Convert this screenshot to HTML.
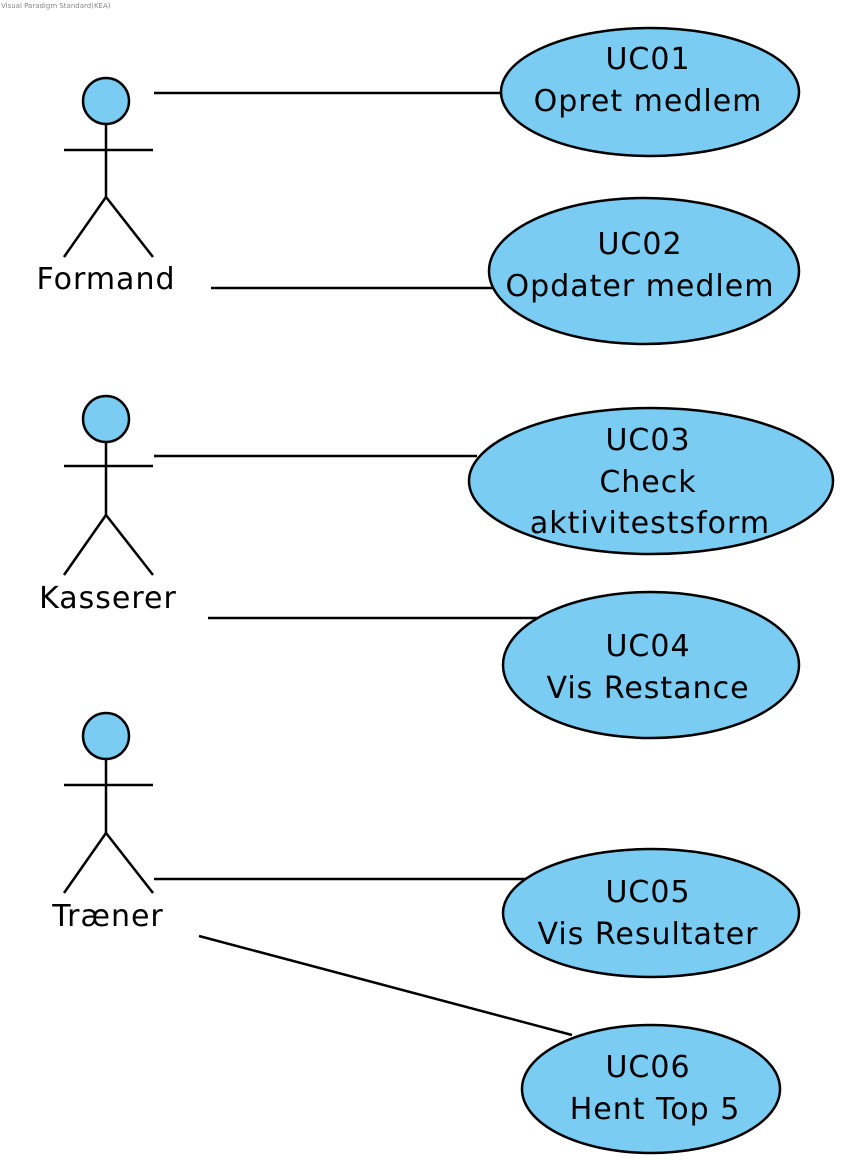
<!DOCTYPE html>
<html><head><meta charset="utf-8"><style>
html,body{margin:0;padding:0;background:#fff;}
svg{display:block;}
text{font-family:"DejaVu Sans","Liberation Sans",sans-serif;}
</style></head><body>
<svg width="846" height="1164" viewBox="0 0 846 1164" xmlns="http://www.w3.org/2000/svg">
<text x="1" y="8" font-size="7" fill="#888">Visual Paradigm Standard(KEA)</text>
<g stroke="#000" stroke-width="2.5" fill="none">
<line x1="154" y1="93" x2="503" y2="93"/>
<line x1="211" y1="288" x2="494" y2="288"/>
<line x1="154" y1="456" x2="477" y2="456"/>
<line x1="208" y1="618" x2="542" y2="618"/>
<line x1="154" y1="879" x2="529" y2="879"/>
<line x1="199" y1="936" x2="572" y2="1035"/>
</g>
<g stroke="#000" stroke-width="2.5" fill="#7accf2">
<ellipse cx="650" cy="92" rx="149" ry="64"/>
<ellipse cx="644" cy="271" rx="155" ry="73"/>
<ellipse cx="651" cy="481" rx="182" ry="73"/>
<ellipse cx="651" cy="665" rx="148" ry="73"/>
<ellipse cx="651" cy="913" rx="148" ry="64"/>
<ellipse cx="651" cy="1089" rx="129" ry="64"/>
</g>
<g stroke="#000" stroke-width="2.5" fill="none">
<circle cx="106" cy="101" r="23" fill="#7accf2"/>
<line x1="106" y1="124" x2="106" y2="197"/><line x1="64" y1="150" x2="153" y2="150"/>
<polyline points="64,257 106,197 153,257"/>
<circle cx="106" cy="419" r="23" fill="#7accf2"/>
<line x1="106" y1="442" x2="106" y2="515"/><line x1="64" y1="466" x2="153" y2="466"/>
<polyline points="64,575 106,515 153,575"/>
<circle cx="106" cy="736" r="23" fill="#7accf2"/>
<line x1="106" y1="759" x2="106" y2="833"/><line x1="64" y1="785" x2="153" y2="785"/>
<polyline points="64,893 106,833 153,893"/>
</g>
<g font-size="30" letter-spacing="1" text-anchor="middle" fill="#000">
<text x="106" y="289">Formand</text>
<text x="108" y="608">Kasserer</text>
<text x="108" y="926">Træner</text>
<text x="648" y="69">UC01</text><text x="648" y="111">Opret medlem</text>
<text x="640" y="254">UC02</text><text x="640" y="296">Opdater medlem</text>
<text x="648" y="450">UC03</text><text x="648" y="492">Check</text><text x="650" y="533">aktivitestsform</text>
<text x="648" y="656">UC04</text><text x="648" y="698">Vis Restance</text>
<text x="648" y="902">UC05</text><text x="648" y="944">Vis Resultater</text>
<text x="648" y="1077">UC06</text><text x="655" y="1119">Hent Top 5</text>
</g>
</svg>
</body></html>
